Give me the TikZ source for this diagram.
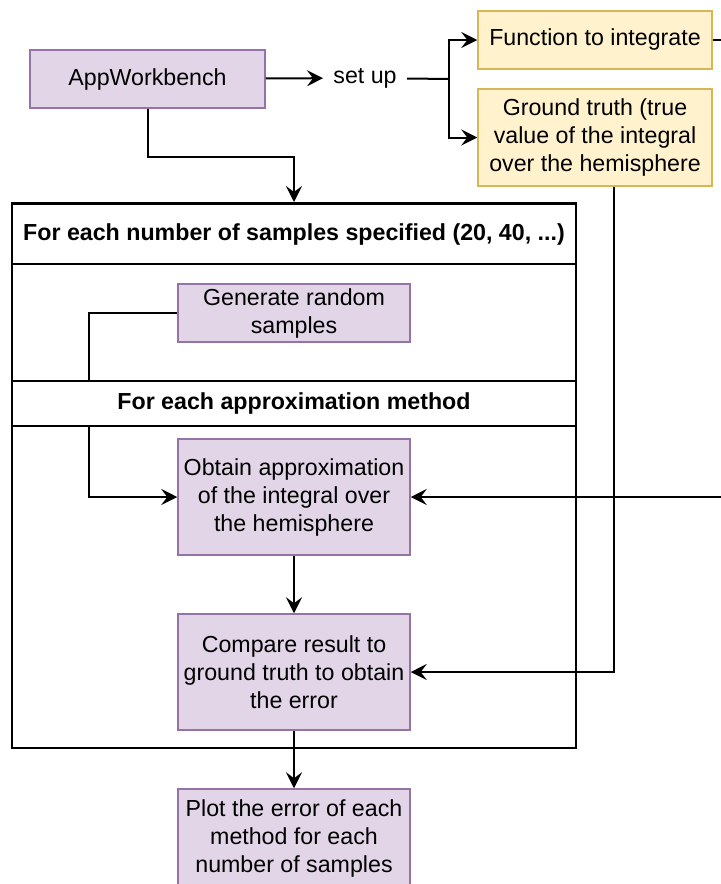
\documentclass[tikz,border=0pt]{standalone}
\usepackage{fontspec}
\setmainfont{Liberation Sans}
\usetikzlibrary{arrows.meta, positioning}
\definecolor{lilac}{HTML}{E1D5E7}
\definecolor{lilacline}{HTML}{9673A6}
\definecolor{cream}{HTML}{FFF2CC}
\definecolor{creamline}{HTML}{D6B656}
\newcommand{\boxfont}{\fontsize{11.6}{14}\selectfont}

\begin{document}
\begin{tikzpicture}[x=0.5pt, y=-0.5pt,
  box/.style={draw=lilacline, fill=lilac, line width=0.75pt, minimum width=116pt, minimum height=29pt, inner sep=1pt, align=center, font=\boxfont},
  given/.style={box, draw=creamline, fill=cream},
  lane/.style={draw, line width=1pt, fill=white, minimum width=282pt, inner sep=0pt},
  head/.style={lane, font=\bfseries\boxfont},
  wire/.style={line width=1pt},
  arr/.style={wire, -{Stealth[length=8pt, width=8pt, inset=3pt]}},
]
\useasboundingbox (0,0) rectangle (721,884);
\clip (0,0) rectangle (721,884);

% Set-up stage
\node[box, minimum width=117.5pt] (app) at (147.5,79) {AppWorkbench};
\node[font=\boxfont, inner sep=5pt] (setup) at (365,78) {set up};
\node[given, minimum width=117pt] (func) at (595,40) {Function to integrate};
\node[given, minimum width=117pt, minimum height=48.5pt] (truth) at (595,137.5) {Ground truth (true\\value of the integral\\over the hemisphere};
\coordinate (fork) at (449,79);
\coordinate (bend) at (760,40);

% Outer loop over sample counts
\node[lane, minimum height=272.5pt] (samplelane) at (294,475.5) {};
\node[head, minimum height=30pt] (samplehead) at (294,234) {For each number of samples specified (20, 40, ...)};
\node[box] (generate) at (294,313) {Generate random\\samples};

% Inner loop over methods
\node[box, minimum height=58pt] (obtain) at (294,497) {Obtain approximation\\of the integral over\\the hemisphere};
\node[box, minimum height=58pt] (compare) at (294,672) {Compare result to\\ground truth to obtain\\the error};
\draw[arr] (generate.west) -- ++(-88,0) |- (obtain.west);
\node[head, minimum height=22.5pt] (methodhead) at (294,403) {For each approximation method};

% Output
\node[box, minimum height=49pt] (plot) at (294,838) {Plot the error of each\\method for each\\number of samples};

% Arrows
\draw[arr] (app) -- (setup);
\draw[wire] (setup) -- (fork);
\draw[arr] (fork) |- (func);
\draw[arr] (fork) |- (truth);
\draw[arr] (app.south) -- ++(0,48) -| (samplelane.north);
\draw[arr] (func) -- (bend) |- (obtain.east);
\draw[arr] ([xshift=9.5pt]truth.south) |- (compare.east);
\draw[arr] (obtain) -- (compare);
\draw[arr] (compare) -- (plot);

\end{tikzpicture}
\end{document}
